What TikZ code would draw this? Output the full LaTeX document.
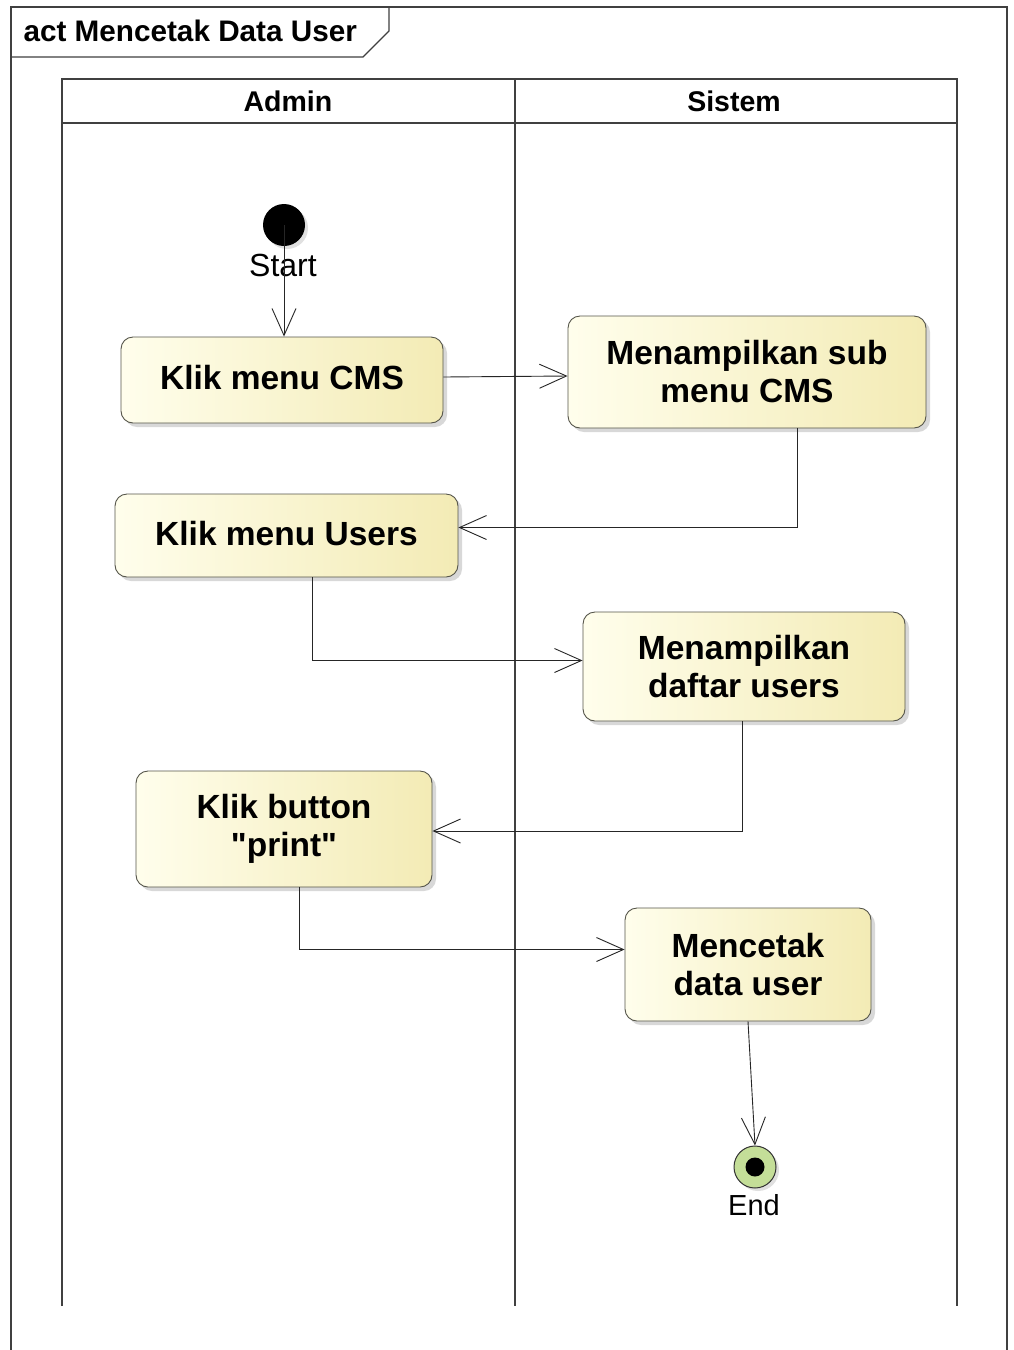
\documentclass[tikz,border=0pt]{standalone}
\usepackage{fontspec}
\setmainfont{Liberation Sans}
\newfontfamily\qfont{Liberation Sans}[Ligatures=TeXOff]
\usetikzlibrary{arrows.meta,shadows,calc}
\definecolor{actL}{HTML}{FFFEEC}
\definecolor{actR}{HTML}{F3EBB5}
\definecolor{actB}{HTML}{55554A}
\definecolor{endG}{HTML}{C4DE98}
\begin{document}
\begin{tikzpicture}[x=1pt,y=-1pt,
  act/.style={draw=actB, line width=0.9pt, rounded corners=12pt, left color=actL, right color=actR,
    align=center, font=\fontsize{33.5}{38}\selectfont\bfseries, inner sep=0pt,
    drop shadow={shadow xshift=4pt, shadow yshift=-4pt, opacity=0.25, fill=black!60}},
  arr/.style={draw=black!85, line width=0.9pt, -{Straight Barb[length=27pt,width=24pt,line width=0.9pt]}},
  ln/.style={draw=black!75, line width=1.1pt},
  lane/.style={font=\fontsize{28.5}{32}\selectfont\bfseries},
  lbl/.style={font=\fontsize{31}{34}\selectfont}]
\useasboundingbox (0,0) rectangle (1013,1350);
\fill[white] (0,0) rectangle (1013,1350);
% frame
\draw[ln] (11,1352) -- (11,7) -- (1007,7) -- (1007,1352);
\draw[ln] (11,57) -- (363,57) -- (389,31) -- (389,7);
\node[anchor=west, font=\fontsize{29.7}{34}\selectfont\bfseries] (title) at (20,31) {act Mencetak Data User};
% lanes
\draw[ln] (62,1306) -- (62,79) -- (957,79) -- (957,1306);
\draw[ln] (515,79) -- (515,1306);
\draw[ln] (62,123) -- (957,123);
\node[lane] (admin) at (288,101) {Admin};
\node[lane] (sistem) at (734,101) {Sistem};
% start
\node[circle, fill=black, minimum size=42pt, inner sep=0pt,
  drop shadow={shadow xshift=3pt, shadow yshift=-3pt, opacity=0.2, fill=black!60}] (start) at (284,225) {};
\node[lbl, font=\fontsize{32}{36}\selectfont] (startlbl) at (283,265) {Start};
% actions
\node[act, minimum width=322pt, minimum height=86pt] (n1) at (282,380) {\raisebox{6pt}{Klik menu CMS}};
\node[act, minimum width=358pt, minimum height=112pt] (n2) at (747,372) {Menampilkan sub\\menu CMS};
\node[act, minimum width=343pt, minimum height=83pt] (n3) at (286.5,535.5) {\raisebox{5pt}{Klik menu Users}};
\node[act, minimum width=322pt, minimum height=109pt] (n4) at (744,666.5) {Menampilkan\\daftar users};
\node[act, minimum width=296pt, minimum height=116pt] (n5) at (284,829) {Klik button\\{\qfont\bfseries "print"}};
\node[act, minimum width=246pt, minimum height=113pt] (n6) at (748,964.5) {Mencetak\\data user};
% end
\node[circle, draw=black!80, fill=endG, minimum size=42pt, inner sep=0pt, line width=1pt,
  drop shadow={shadow xshift=3pt, shadow yshift=-3pt, opacity=0.2, fill=black!60}] (end) at (755,1167) {};
\node[circle, fill=black, minimum size=19pt, inner sep=0pt] (enddot) at (end.center) {};
\node[lbl, font=\fontsize{29}{33}\selectfont] (endlbl) at (754,1205) {End};
% flows
\draw[arr] (start.center) -- (start.center |- n1.north);
\draw[arr] ([yshift=3pt]n1.east) -- ([yshift=-4pt]n2.west);
\draw[arr] ([xshift=50pt]n2.south) |- ([yshift=8pt]n3.east);
\draw[arr] ([xshift=26pt]n3.south) |- ([yshift=6pt]n4.west);
\draw[arr] ([xshift=-2pt]n4.south) |- ([yshift=-2pt]n5.east);
\draw[arr] ([xshift=15pt]n5.south) |- ([yshift=15pt]n6.west);
\draw[arr] (n6.south) -- (end.north);
\end{tikzpicture}
\end{document}
